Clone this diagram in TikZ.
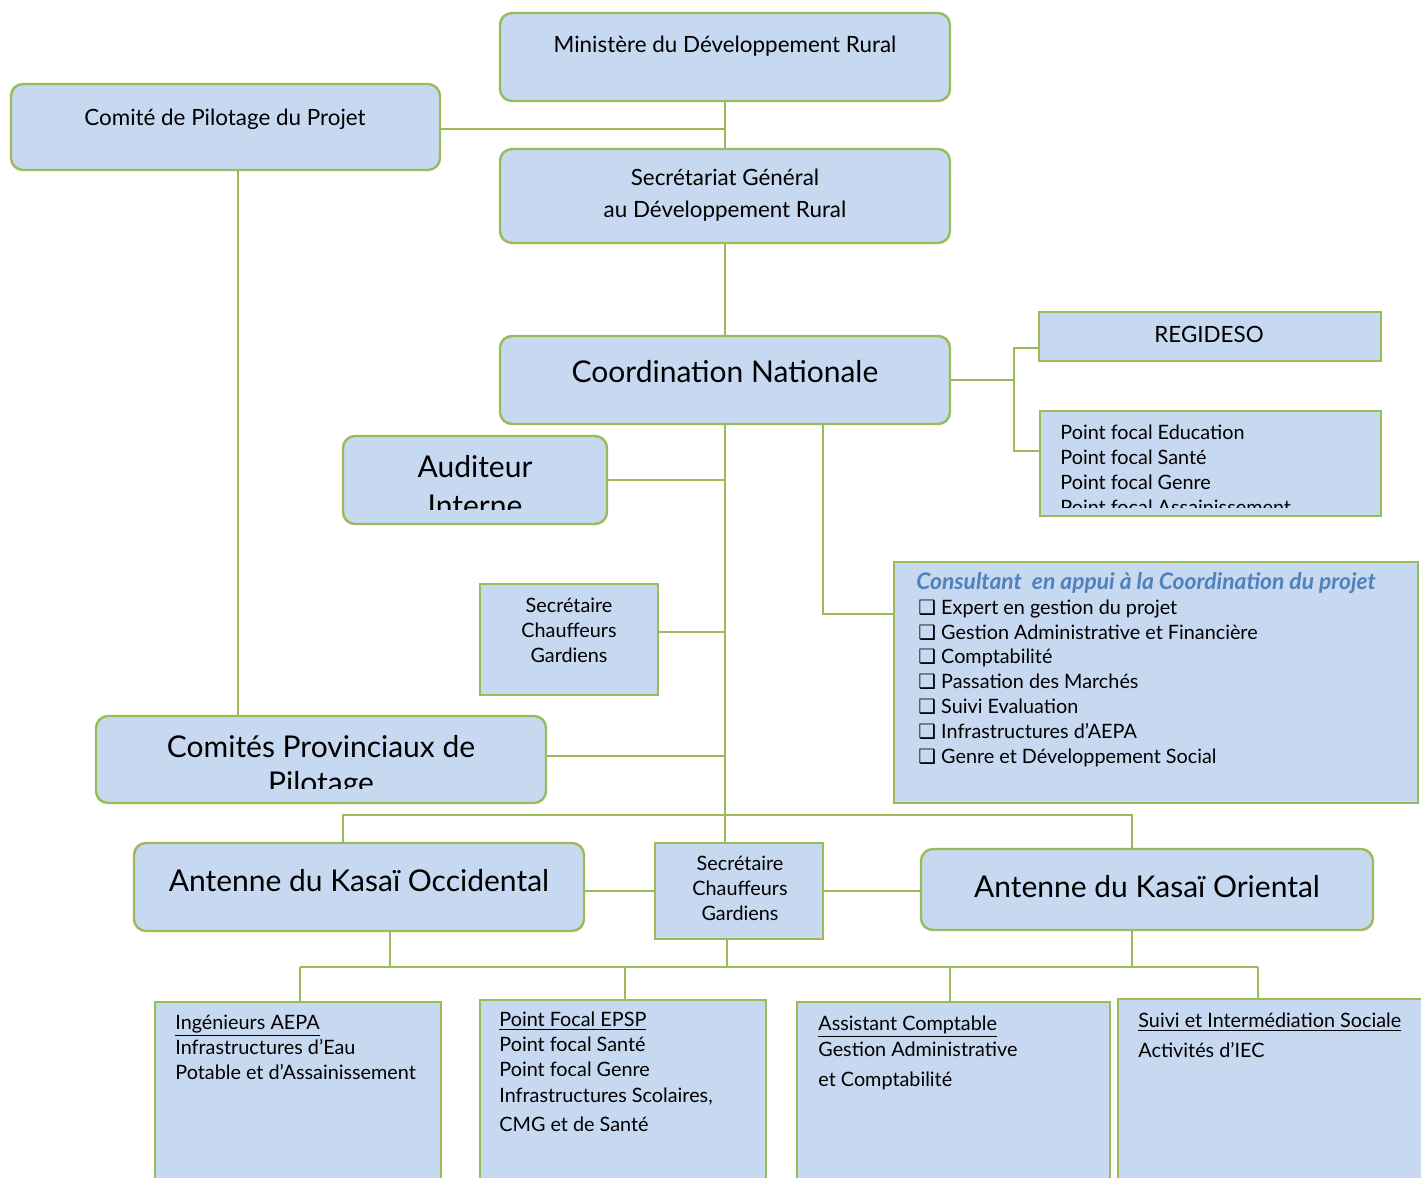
\documentclass[tikz,border=0pt]{standalone}
\usepackage{fontspec}
\setmainfont{Lato}
\newfontfamily\symfont{DejaVu Sans}
\definecolor{boxblue}{HTML}{C6D9F1}
\definecolor{boxgreen}{HTML}{9BBB59}
\definecolor{titleblue}{HTML}{4F81BD}
\newcommand{\sqbox}{{\symfont\char"2751}\ }

\begin{document}
\begin{tikzpicture}[x=0.5pt,y=-0.5pt,
  rbox/.style={draw=boxgreen,fill=boxblue,line width=1.2pt,rounded corners=6pt,inner sep=0pt},
  sbox/.style={draw=boxgreen,fill=boxblue,line width=1.2pt,inner sep=0pt},
  sz/.style 2 args={minimum width=#1*0.5pt,minimum height=#2*0.5pt},
  link/.style={draw=boxgreen,line width=1pt},
  txt/.style={font=\fontsize{11.2}{12.4}\selectfont,inner sep=0pt},
  list/.style={font=\fontsize{9.9}{12.4}\selectfont,inner sep=0pt},
  big/.style={font=\fontsize{15}{18}\selectfont,inner sep=0pt}]

\useasboundingbox (0,0) rectangle (1421,1178);
\clip (0,0) rectangle (1421,1178);

\node[rbox,sz={450}{88}] (min) at (725,57) {};
\node[rbox,sz={429}{86}] (cpp) at (225.5,127) {};
\node[rbox,sz={450}{94}] (sg) at (725,196) {};
\node[rbox,sz={450}{88}] (cn) at (725,380) {};
\node[sbox,sz={342}{49}] (reg) at (1210,336.5) {};
\node[sbox,sz={341}{105}] (pfc) at (1210.5,463.5) {};
\node[rbox,sz={264}{88}] (aud) at (475,480) {};
\node[sbox,sz={524}{241}] (cons) at (1156,682.5) {};
\node[sbox,sz={178}{111}] (sec1) at (569,639.5) {};
\node[rbox,sz={450}{87}] (cprov) at (321,759.5) {};
\node[rbox,sz={450}{88}] (ako) at (359,887) {};
\node[sbox,sz={168}{96}] (sec2) at (739,891) {};
\node[rbox,sz={452}{81}] (akor) at (1147,889.5) {};
\node[sbox,sz={286}{196}] (ing) at (298,1100) {};
\node[sbox,sz={286}{198}] (epsp) at (623,1099) {};
\node[sbox,sz={313}{196}] (ast) at (953.5,1100) {};
\node[sbox,sz={314}{199}] (suiv) at (1275,1098.5) {};

\node[txt,anchor=base] (minT) at (725,53) {Ministère du Développement Rural};
\node[txt,anchor=base] (cppT) at (225,125) {Comité de Pilotage du Projet};
\node[txt,anchor=base,align=center] (sgT) at (725,217) {Secrétariat Général\\[3.6pt]au Développement Rural};
\node[big,anchor=base] (cnT) at (725,382) {Coordination Nationale};
\node[txt,anchor=base] (regT) at (1209,342) {REGIDESO};
\begin{scope}
\clip (1040,411) rectangle (1381,507);
\node[list,anchor=base west,align=left] (pfcT) at (1060,514) {Point focal Education\\Point focal Santé\\Point focal Genre\\Point focal Assainissement};
\end{scope}
\begin{scope}
\clip (343,436) rectangle (607,509);
\node[big,anchor=base,align=center] (audT) at (475,516) {Auditeur\\[1.5pt]Interne};
\end{scope}
\node[txt,anchor=base west,text=titleblue,font=\fontsize{11.4}{12.4}\selectfont] (consH) at (916,589) {\textbf{\textit{Consultant\ \ en appui à la Coordination du projet}}};
\node[list,anchor=base west,align=left] (consT) at (918,763) {\sqbox Expert en gestion du projet\\\sqbox Gestion Administrative et Financière\\\sqbox Comptabilité\\\sqbox Passation des Marchés\\\sqbox Suivi Evaluation\\\sqbox Infrastructures d’AEPA\\\sqbox Genre et Développement Social};
\node[list,anchor=base,align=center] (sec1T) at (569,662) {Secrétaire\\Chauffeurs\\Gardiens};
\begin{scope}
\clip (96,716) rectangle (546,788);
\node[big,anchor=base,align=center] (cprovT) at (321,793) {Comités Provinciaux de\\Pilotage};
\end{scope}
\node[big,anchor=base] (akoT) at (359,891) {Antenne du Kasaï Occidental};
\node[list,anchor=base,align=center] (sec2T) at (740,920) {Secrétaire\\Chauffeurs\\Gardiens};
\node[big,anchor=base] (akorT) at (1147,897) {Antenne du Kasaï Oriental};
\node[list,anchor=base west,align=left] (ingT) at (175,1079) {\underline{Ingénieurs AEPA}\\Infrastructures d’Eau\\Potable et d’Assainissement};
\node[list,anchor=base west,align=left] (epspT) at (499,1131) {\underline{Point Focal EPSP}\\Point focal Santé\\Point focal Genre\\[0.8pt]Infrastructures Scolaires,\\[1.8pt]CMG et de Santé};
\node[list,anchor=base west,align=left] (astT) at (818,1086) {\underline{Assistant Comptable}\\[0.6pt]Gestion Administrative\\[2.6pt]et Comptabilité};
\node[list,anchor=base west,align=left] (suivT) at (1138,1057) {\underline{Suivi et Intermédiation Sociale}\\[2.2pt]Activités d’IEC};

\coordinate (jr1) at (1014,348);
\coordinate (jr2) at (1014,451);
\coordinate (cb) at (823,614);
\coordinate (b1) at (343,815);
\coordinate (b2) at (1132,815);
\coordinate (dA) at (390,967);
\coordinate (dS) at (727,967);
\coordinate (dO) at (1132,967);
\coordinate (dI) at (300,967);
\coordinate (dE) at (625,967);
\coordinate (dC) at (950,967);
\coordinate (dV) at (1258,967);

\draw[link] (min.south) -- (sg.north);
\draw[link] ([yshift=-1pt]cpp.east) -- ([yshift=-1pt]cpp.east -| min.south);
\draw[link] (sg.south) -- (cn.north);
\draw[link] (cn.east) -- (cn.east -| jr1);
\draw[link] (reg.west |- jr1) -- (jr1) -- (jr2) -- (pfc.west |- jr2);
\draw[link] (cn.south) -- (cn.south |- sec2.north);
\draw[link] (aud.east) -- (aud.east -| cn.south);
\draw[link] ([yshift=3.75pt]sec1.east) -- ([yshift=3.75pt]sec1.east -| cn.south);
\draw[link] ([yshift=1.75pt]cprov.east) -- ([yshift=1.75pt]cprov.east -| cn.south);
\draw[link] (cb |- cn.south) -- (cb) -- (cb -| cons.west);
\draw[link] ([xshift=6.25pt]cpp.south) -- ([xshift=6.25pt]cpp.south |- cprov.north);
\draw[link] (b1 |- ako.north) -- (b1) -- (b2) -- (b2 |- akor.north);
\draw[link] (ako.east |- sec2.west) -- (sec2.west);
\draw[link] (sec2.east) -- (sec2.east -| akor.west);
\draw[link] (dA |- ako.south) -- (dA);
\draw[link] (dS |- sec2.south) -- (dS);
\draw[link] (dO |- akor.south) -- (dO);
\draw[link] (dI) -- (dV);
\foreach \d/\b in {dI/ing,dE/epsp,dC/ast,dV/suiv}
  \draw[link] (\d) -- (\d |- \b.north);
\end{tikzpicture}
\end{document}
